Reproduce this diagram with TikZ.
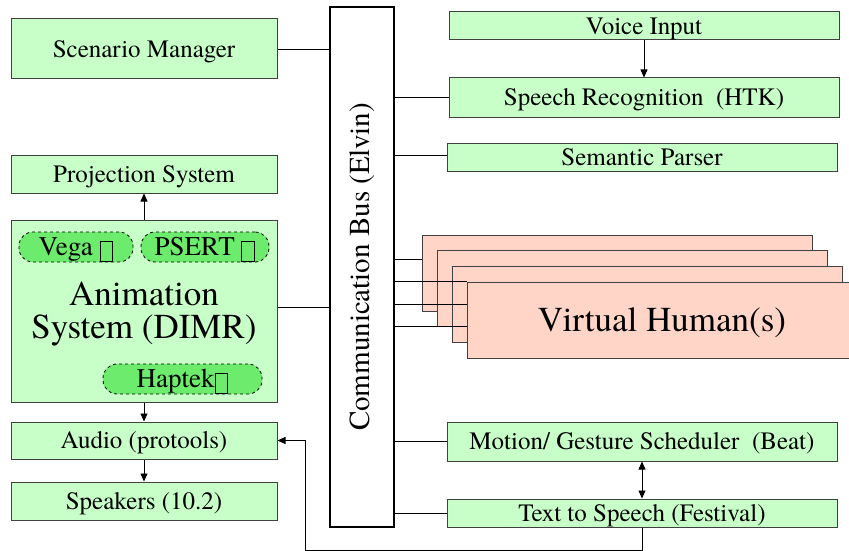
\documentclass[tikz,border=0pt]{standalone}
\usepackage{fontspec}
\setmainfont{TeX Gyre Termes}
\usetikzlibrary{arrows.meta}
\definecolor{boxgreen}{RGB}{200,255,200}
\definecolor{pillgreen}{RGB}{108,235,108}
\definecolor{vhfill}{RGB}{255,213,200}
\definecolor{edgegray}{RGB}{64,64,64}
\newcommand\tofubox{\raisebox{-0.19em}{\fboxsep=0pt\fboxrule=1pt\fbox{\rule{0pt}{0.72em}\hspace{0.44em}}}}
\tikzset{
  box/.style={draw=edgegray, line width=1pt, fill=boxgreen, inner sep=0pt,
    text height=16.5pt, text depth=0pt, font=\fontsize{25}{27}\selectfont},
  pill/.style={draw=black, dashed, line width=0.8pt, fill=pillgreen, rounded corners=14pt,
    inner sep=0pt, minimum height=30pt, text height=17.8pt, text depth=0pt,
    font=\fontsize{27}{29}\selectfont},
  vh/.style={draw=edgegray, fill=vhfill, line width=1pt, inner sep=0pt,
    minimum width=390pt, minimum height=76pt},
  conn/.style={draw=black, line width=0.7pt},
  arr/.style={conn, -{Triangle[length=8pt,width=7pt]}},
  dblarr/.style={conn, {Triangle[length=8pt,width=7pt]}-{Triangle[length=8pt,width=7pt]}},
}
\begin{document}
\begin{tikzpicture}[x=1pt,y=-1pt]
\useasboundingbox (0,0) rectangle (849,551);
% left column
\node[box, minimum width=266pt, minimum height=60pt] (sm) at (144,49) {Scenario Manager};
\node[box, minimum width=266pt, minimum height=38pt] (proj) at (144,174) {Projection System};
\node[box, minimum width=266pt, minimum height=182pt] (anim) at (144,311) {};
\node[font=\fontsize{35}{33}\selectfont, align=center, inner sep=0pt] (animtxt) at (144,314) {Animation\\System (DIMR)};
\node[pill, minimum width=114pt] (vega) at (76,247) {Vega \tofubox};
\node[pill, minimum width=128pt] (psert) at (205,247) {PSERT \tofubox};
\node[pill, minimum width=159pt] (haptek) at (182.5,379) {Haptek\tofubox};
\node[box, minimum width=266pt, minimum height=37pt] (audio) at (144,440.5) {Audio (protools)};
\node[box, minimum width=266pt, minimum height=38pt] (spk) at (144,501) {Speakers (10.2)};
% bus
\node[draw=black, line width=1.8pt, fill=white, minimum width=64pt, minimum height=520pt, inner sep=0pt] (bus) at (362,267) {};
\node[rotate=90, font=\fontsize{29}{31}\selectfont, inner sep=0pt] (bustxt) at (bus.center) {Communication Bus (Elvin)};
% right column
\node[box, minimum width=390pt, minimum height=28pt] (voice) at (644,26) {Voice Input};
\node[box, minimum width=390pt, minimum height=39pt] (sr) at (644,97.5) {Speech Recognition\ \ (HTK)};
\node[box, minimum width=390pt, minimum height=28pt] (sp) at (642,157) {Semantic Parser};
\node[vh] (vh1) at (617,273) {};
\node[vh] (vh2) at (632,288) {};
\node[vh] (vh3) at (647,304) {};
\node[vh, text height=23pt, text depth=0pt, font=\fontsize{35}{37}\selectfont] (vh4) at (662,320) {Virtual Human(s)};
\node[box, minimum width=390pt, minimum height=39pt] (mgs) at (642,441.5) {Motion/ Gesture Scheduler\ \ (Beat)};
\node[box, minimum width=390pt, minimum height=28pt] (tts) at (642,513) {Text to Speech (Festival)};
% connectors to bus
\draw[conn] (sm.east) -- (bus.west |- sm.east);
\draw[conn] ([yshift=4pt]anim.east) -- (bus.west |- 0,307);
\draw[conn] (bus.east |- sr.west) -- (sr.west);
\draw[conn] (bus.east |- 0,155) -- (sp.west |- 0,155);
\draw[conn] (bus.east |- mgs.west) -- (mgs.west);
\draw[conn] (bus.east |- tts.west) -- (tts.west);
\coordinate (l1) at ([yshift=14pt]vh1.west);
\draw[conn] (bus.east |- l1) -- (l1);
\draw[conn] (bus.east |- vh4.north west) -- (vh4.north west);
\draw[conn] (bus.east |- vh3.west) -- (vh4.west |- vh3.west);
\draw[conn] (bus.east |- vh2.south west) -- (vh4.west |- vh2.south west);
% arrows
\draw[arr] (voice.south) -- (sr.north);
\draw[arr] (anim.north) -- (proj.south);
\draw[arr] (anim.south) -- (audio.north);
\draw[arr] (audio.south) -- (spk.north);
\draw[dblarr] (mgs.south) -- (tts.north);
\draw[arr] (tts.south) -- ++(0,23) -| ([xshift=28pt]audio.east) -- (audio.east);
\end{tikzpicture}
\end{document}
